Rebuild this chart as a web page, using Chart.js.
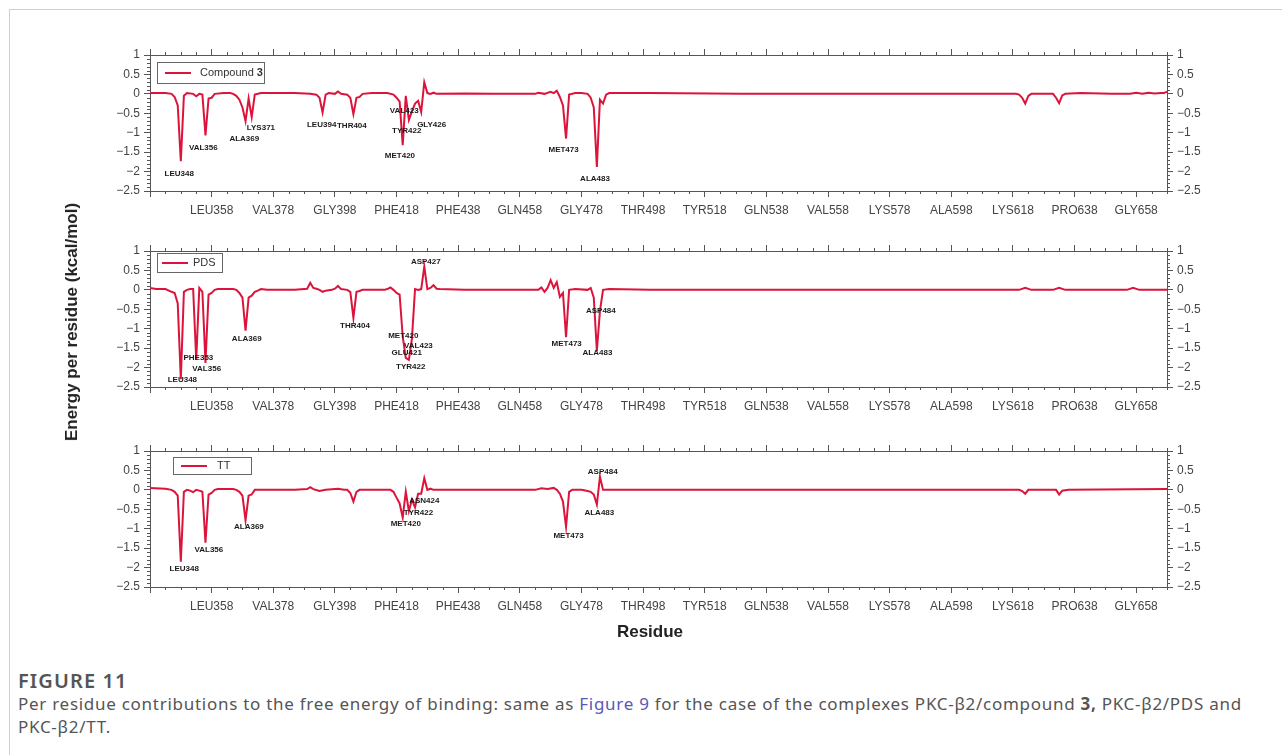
<!DOCTYPE html>
<html>
<head>
<meta charset="utf-8">
<script src="https://cdn.jsdelivr.net/npm/chart.js@4.4.1/dist/chart.umd.min.js"></script>
<style>
  body { margin: 0; background: #fff; width: 1282px; height: 755px; overflow: hidden; position: relative; font-family: "Liberation Sans", Arial, sans-serif; }
  #frame { position: absolute; left: 9px; top: 9px; width: 1300px; height: 800px; border: 1px solid #cfcfcf; box-sizing: border-box; }
  .panel { position: absolute; left: 0; width: 1282px; height: 196px; }
  #ytitle { position: absolute; left: 72px; top: 322px; transform: translate(-50%, -50%) rotate(-90deg); font-weight: bold; font-size: 17px; color: #222; white-space: nowrap; }
  #xtitle { position: absolute; left: 650px; top: 632px; transform: translate(-50%, -50%); font-weight: bold; font-size: 17px; color: #222; }
  #figno { position: absolute; left: 18px; top: 670px; line-height: 22px; font-family: "Noto Sans", sans-serif; font-weight: 600; font-size: 20px; letter-spacing: 1.1px; color: #555; }
  #caption { position: absolute; left: 18px; top: 692px; width: 1262px; font-family: "Noto Sans", sans-serif; font-size: 17px; letter-spacing: 0.72px; line-height: 23px; color: #555; white-space: nowrap; }
  #caption a { color: #5b57b8; text-decoration: none; }
</style>
</head>
<body>
<div id="frame"></div>
<canvas id="p1" class="panel" style="top:35px"></canvas>
<canvas id="p2" class="panel" style="top:231px"></canvas>
<canvas id="p3" class="panel" style="top:431px"></canvas>
<div id="ytitle">Energy per residue (kcal/mol)</div>
<div id="xtitle">Residue</div>
<div id="figno">FIGURE 11</div>
<div id="caption">Per residue contributions to the free energy of binding: same as <a>Figure 9</a> for the case of the complexes PKC-β2/compound <b>3,</b> PKC-β2/PDS and<br>PKC-β2/TT.</div>

<script>
// x axis tick residues and names
var tickResidues = [338, 358, 378, 398, 418, 438, 458, 478, 498, 518, 538, 558, 578, 598, 618, 638, 658];
var tickNames = ["", "LEU358", "VAL378", "GLY398", "PHE418", "PHE438", "GLN458", "GLY478", "THR498", "TYR518", "GLN538", "VAL558", "LYS578", "ALA598", "LYS618", "PRO638", "GLY658"];

// Compound 3
var c3Residues = [338, 343, 345, 346, 347, 348, 349, 350, 352, 353, 354, 355, 356, 357, 358, 359, 362, 364, 365, 366, 367, 368, 369, 370, 371, 372, 374, 380, 385, 390, 392, 393, 394, 395, 396, 398, 399, 400, 402, 403, 404, 405, 406, 407, 410, 415, 417, 418, 419, 420, 421, 422, 423, 424, 425, 426, 427, 428, 429, 430, 431, 440, 450, 463, 464, 466, 468, 469, 470, 471, 472, 473, 474, 476, 478, 480, 481, 482, 483, 484, 485, 486, 487, 500, 530, 560, 600, 619, 620, 621, 622, 623, 624, 631, 632, 633, 634, 635, 640, 650, 656, 658, 660, 662, 664, 666, 667, 668];
var c3Energy = [0.02, 0.02, 0.0, -0.08, -0.3, -1.73, -0.05, 0.02, 0.0, -0.06, 0.0, -0.02, -1.07, -0.12, -0.1, 0.0, 0.02, 0.02, 0.0, -0.05, -0.15, -0.35, -0.7, -0.12, -0.6, -0.02, 0.02, 0.02, 0.02, 0.0, -0.02, -0.1, -0.48, -0.02, 0.02, 0.0, 0.06, 0.0, -0.02, -0.1, -0.52, -0.1, -0.08, 0.0, 0.02, 0.02, -0.02, -0.1, -0.2, -1.32, -0.05, -0.67, -0.45, -0.25, -0.18, -0.47, 0.3, 0.02, 0.0, 0.03, 0.0, 0.01, 0.0, 0.0, 0.03, 0.0, 0.05, 0.02, 0.08, -0.08, -0.3, -1.15, -0.02, 0.02, 0.02, 0.0, -0.1, -0.35, -1.88, -0.15, -0.25, -0.02, 0.02, 0.02, 0.0, 0.0, 0.0, 0.0, -0.02, -0.1, -0.25, -0.05, 0.0, 0.0, -0.1, -0.24, -0.04, 0.0, 0.02, 0.0, 0.0, 0.03, 0.0, 0.03, 0.01, 0.02, 0.02, 0.06];
var c3Labels = ["LEU348", "VAL356", "ALA369", "LYS371", "LEU394", "THR404", "VAL423", "TYR422", "GLY426", "MET420", "MET473", "ALA483"];
var c3LabelRes = [347.5, 355.3, 368.6, 374, 393.7, 403.5, 420.5, 421.3, 429.4, 419.1, 472.2, 482.4];
var c3LabelVal = [-2.05, -1.38, -1.15, -0.88, -0.79, -0.81, -0.44, -0.96, -0.79, -1.6, -1.45, -2.18];

// PDS
var pdsResidues = [338, 340, 343, 345, 346, 347, 348, 349, 350, 351, 352, 353, 354, 355, 356, 357, 358, 359, 360, 365, 366, 367, 368, 369, 370, 371, 372, 373, 374, 376, 385, 389, 390, 391, 392, 393, 394, 395, 397, 398, 399, 400, 402, 403, 404, 405, 406, 407, 414, 415, 416, 417, 418, 419, 420, 421, 422, 423, 424, 425, 426, 427, 428, 429, 430, 431, 432, 440, 450, 462, 464, 465, 466, 467, 468, 469, 470, 471, 472, 473, 474, 476, 480, 481, 482, 483, 484, 485, 487, 500, 540, 580, 620, 622, 624, 631, 633, 635, 650, 655, 657, 659, 668];
var pdsEnergy = [0.05, 0.02, 0.02, -0.05, -0.08, -0.35, -2.3, -0.05, 0.0, 0.02, 0.02, -1.8, 0.05, -0.05, -1.88, -0.12, -0.08, 0.0, 0.02, 0.02, 0.0, -0.08, -0.2, -1.05, -0.2, -0.15, -0.05, -0.02, 0.02, 0.0, 0.0, 0.03, 0.18, 0.05, 0.03, 0.0, -0.05, -0.02, 0.0, 0.03, 0.1, 0.02, 0.0, -0.05, -0.72, -0.05, -0.03, 0.0, 0.0, 0.02, 0.06, 0.0, -0.08, -0.12, -1.2, -1.75, -1.8, -1.25, 0.02, 0.0, 0.02, 0.6, 0.02, 0.05, 0.12, 0.03, 0.02, 0.0, 0.0, 0.0, 0.0, 0.06, -0.05, 0.05, 0.25, 0.05, 0.2, -0.18, -0.08, -1.22, 0.0, 0.02, 0.0, 0.05, -0.2, -1.57, -0.55, 0.0, 0.02, 0.0, 0.0, 0.0, 0.0, 0.05, 0.0, 0.0, 0.05, 0.0, 0.0, 0.0, 0.05, 0.0, 0.0];
var pdsLabels = ["LEU348", "PHE353", "VAL356", "ALA369", "THR404", "MET420", "VAL423", "GLU421", "TYR422", "ASP427", "ASP484", "MET473", "ALA483"];
var pdsLabelRes = [348.5, 353.7, 356.4, 369.4, 404.5, 420.2, 425.1, 421.3, 422.6, 427.5, 484.3, 473.2, 483.2];
var pdsLabelVal = [-2.32, -1.76, -2.02, -1.26, -0.92, -1.17, -1.44, -1.63, -1.99, 0.72, -0.54, -1.39, -1.62];

// TT
var ttResidues = [338, 343, 345, 346, 347, 348, 349, 350, 351, 352, 353, 354, 355, 356, 357, 358, 359, 360, 365, 366, 367, 368, 369, 370, 371, 372, 375, 385, 389, 390, 391, 393, 395, 399, 401, 402, 403, 404, 405, 406, 410, 416, 417, 418, 419, 420, 421, 422, 423, 424, 425, 426, 427, 428, 429, 430, 440, 460, 463, 465, 467, 469, 470, 471, 472, 473, 474, 475, 478, 480, 481, 482, 483, 484, 485, 490, 550, 620, 621, 622, 623, 632, 633, 634, 636, 668];
var ttEnergy = [0.05, 0.03, 0.0, -0.05, -0.15, -1.85, -0.05, 0.0, -0.02, -0.06, 0.0, -0.02, -0.05, -1.36, -0.12, -0.08, 0.0, 0.02, 0.02, 0.0, -0.05, -0.15, -0.78, -0.15, -0.12, 0.0, 0.0, 0.0, 0.02, 0.07, 0.02, -0.03, 0.0, 0.03, 0.0, 0.0, -0.08, -0.3, -0.05, 0.0, 0.0, 0.0, -0.05, -0.2, -0.35, -0.71, -0.05, -0.55, -0.25, -0.45, -0.1, -0.1, 0.3, 0.0, 0.03, 0.0, 0.0, 0.0, 0.0, 0.04, 0.02, 0.05, 0.0, -0.1, -0.3, -0.95, -0.05, 0.0, 0.0, -0.03, -0.05, -0.12, -0.38, 0.34, 0.0, 0.0, 0.0, 0.0, -0.03, -0.1, 0.0, 0.0, -0.12, -0.02, 0.0, 0.02];
var ttLabels = ["LEU348", "VAL356", "ALA369", "ASN424", "TYR422", "MET420", "MET473", "ASP484", "ALA483"];
var ttLabelRes = [349.1, 357.1, 370.1, 427, 425.1, 421, 473.8, 484.9, 483.8];
var ttLabelVal = [-2.04, -1.53, -0.96, -0.29, -0.6, -0.88, -1.18, 0.47, -0.59];

var lineColor = "#dc143c";
var axisColor = "#555";
var tickFont = { family: "Liberation Sans", size: 12 };

function fmtY(v) {
    return String(v).replace("-", "\u2212");
}

// minor ticks, legend box and residue labels
var extrasPlugin = {
    id: "extras",
    afterDraw: function (chart) {
        var ctx = chart.ctx;
        var a = chart.chartArea;
        var xs = chart.scales.x;
        var ys = chart.scales.y;
        var o = chart.options.plugins.extras;
        ctx.save();
        ctx.strokeStyle = axisColor;
        ctx.lineWidth = 1;
        ctx.beginPath();
        for (var r = 338; r <= 668; r += 5) {
            if ((r - 338) % 20 === 0) continue;
            var px = Math.round(xs.getPixelForValue(r)) + 0.5;
            ctx.moveTo(px, a.top); ctx.lineTo(px, a.top - 3);
            ctx.moveTo(px, a.bottom); ctx.lineTo(px, a.bottom + 3);
        }
        for (var k = -25; k <= 10; k++) {
            if (k % 5 === 0) continue;
            var py = Math.round(ys.getPixelForValue(k / 10)) + 0.5;
            ctx.moveTo(a.left, py); ctx.lineTo(a.left - 3, py);
            ctx.moveTo(a.right, py); ctx.lineTo(a.right + 3, py);
        }
        ctx.stroke();

        // legend box
        var bx = a.left + o.legendLeft, by = a.top + o.legendTop;
        ctx.fillStyle = "#fff";
        ctx.fillRect(bx, by, o.legendWidth, o.legendHeight);
        ctx.strokeStyle = "#666";
        ctx.strokeRect(bx + 0.5, by + 0.5, o.legendWidth, o.legendHeight);
        ctx.strokeStyle = lineColor;
        ctx.lineWidth = 2;
        ctx.beginPath();
        var ly = by + o.legendHeight / 2 + 0.5;
        ctx.moveTo(bx + o.sampleStart, ly); ctx.lineTo(bx + o.sampleStart + 26, ly);
        ctx.stroke();
        ctx.fillStyle = "#333";
        ctx.textBaseline = "middle";
        ctx.textAlign = "left";
        ctx.font = "11px 'Liberation Sans'";
        var tx = bx + o.sampleStart + 26 + o.textGap;
        ctx.fillText(o.name, tx, ly);
        if (o.nameBold) {
            var w = ctx.measureText(o.name).width;
            ctx.font = "bold 11px 'Liberation Sans'";
            ctx.fillText(o.nameBold, tx + w, ly);
        }

        // residue labels
        ctx.fillStyle = "#1a1a1a";
        ctx.textAlign = "center";
        ctx.font = "bold 8px 'Liberation Sans'";
        for (var i = 0; i < o.labels.length; i++) {
            ctx.fillText(o.labels[i], xs.getPixelForValue(o.labelRes[i]), ys.getPixelForValue(o.labelVal[i]));
        }
        ctx.restore();
    }
};

function makePanel(id, residues, energy, extras) {
    var pts = residues.map(function (r, i) { return { x: r, y: energy[i] }; });
    var xAxis = function (pos, showLabels) {
        return {
            type: "linear", position: pos, min: 338, max: 668,
            afterBuildTicks: function (s) { s.ticks = tickResidues.map(function (v) { return { value: v }; }); },
            afterFit: function (s) { s.height = pos === "top" ? 20 : 40; },
            ticks: {
                autoSkip: false, maxRotation: 0, padding: 6, color: "#444", font: tickFont,
                callback: function (v) { return showLabels ? tickNames[tickResidues.indexOf(v)] : ""; }
            },
            grid: { drawOnChartArea: false, tickLength: 6, color: axisColor },
            border: { color: axisColor }
        };
    };
    var yAxis = function (pos) {
        return {
            type: "linear", position: pos, min: -2.5, max: 1,
            afterFit: function (s) { s.width = pos === "left" ? 150 : 115; },
            ticks: { stepSize: 0.5, padding: 4, color: "#444", font: tickFont, callback: fmtY },
            grid: { drawOnChartArea: false, tickLength: 6, color: axisColor },
            border: { color: axisColor }
        };
    };
    return new Chart(document.getElementById(id).getContext("2d"), {
        type: "line",
        data: {
            datasets: [{
                data: pts, borderColor: lineColor, borderWidth: 2, pointRadius: 0, tension: 0,
                xAxisID: "x", yAxisID: "y"
            }]
        },
        options: {
            responsive: false, animation: false,
            layout: { padding: 0 },
            plugins: { legend: { display: false }, tooltip: { enabled: false }, extras: extras },
            scales: { x: xAxis("bottom", true), x2: xAxis("top", false), y: yAxis("left"), y2: yAxis("right") }
        },
        plugins: [extrasPlugin]
    });
}

document.addEventListener("DOMContentLoaded", function () {
    ["p1", "p2", "p3"].forEach(function (id) {
        var c = document.getElementById(id);
        c.width = 1282; c.height = 196;
    });
    makePanel("p1", c3Residues, c3Energy, {
        name: "Compound ", nameBold: "3", legendLeft: 7, legendTop: 7, legendWidth: 107, legendHeight: 21,
        sampleStart: 8, textGap: 9, labels: c3Labels, labelRes: c3LabelRes, labelVal: c3LabelVal
    });
    makePanel("p2", pdsResidues, pdsEnergy, {
        name: "PDS", nameBold: "", legendLeft: 7, legendTop: 2, legendWidth: 65, legendHeight: 19,
        sampleStart: 5, textGap: 5, labels: pdsLabels, labelRes: pdsLabelRes, labelVal: pdsLabelVal
    });
    makePanel("p3", ttResidues, ttEnergy, {
        name: "TT", nameBold: "", legendLeft: 23, legendTop: 6, legendWidth: 78, legendHeight: 17,
        sampleStart: 8, textGap: 10, labels: ttLabels, labelRes: ttLabelRes, labelVal: ttLabelVal
    });
});
</script>
</body>
</html>
